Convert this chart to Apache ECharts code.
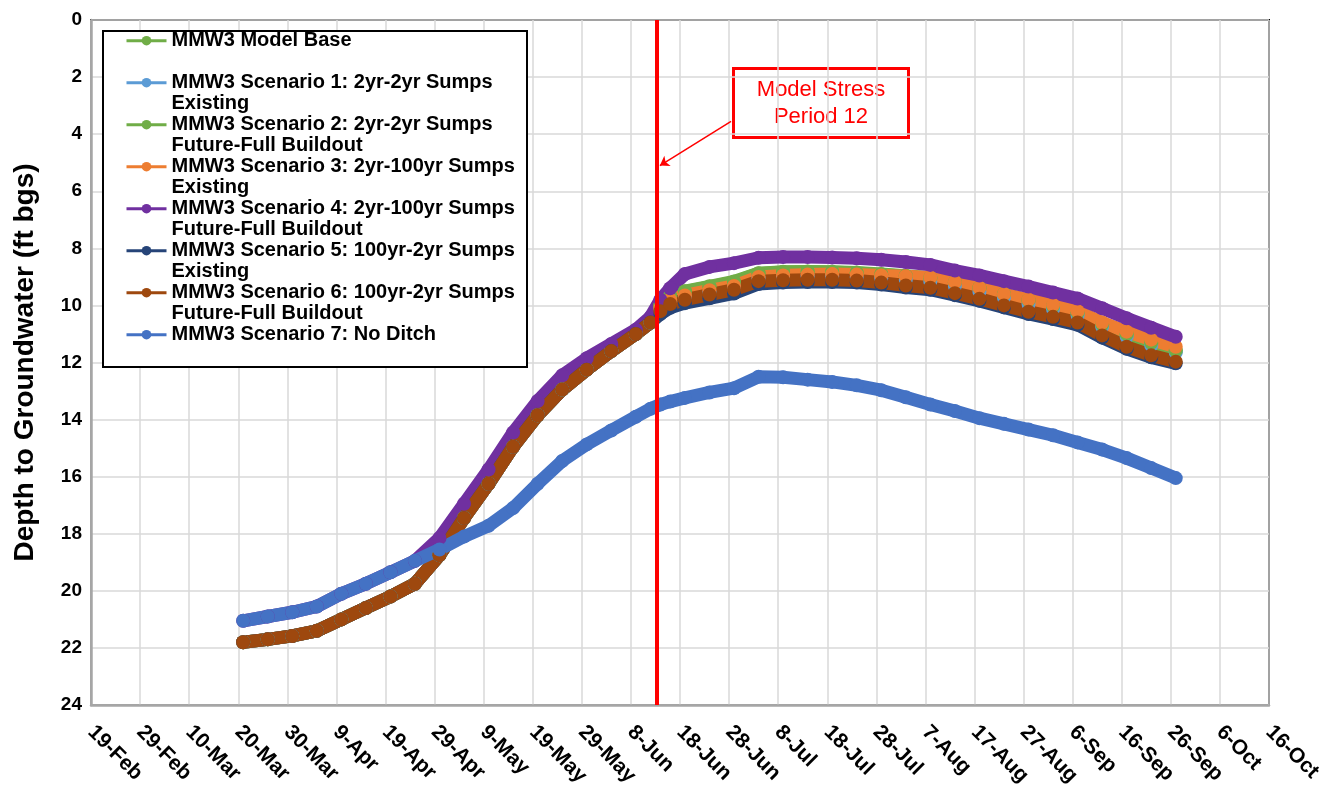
<!DOCTYPE html>
<html lang="en">
<head>
<meta charset="UTF-8">
<title>MMW3 Depth to Groundwater</title>
<script src="https://cdn.jsdelivr.net/npm/echarts@6/dist/echarts.min.js"></script>
<style>
  html, body { margin: 0; padding: 0; background: #fff; }
  #main { width: 1339px; height: 808px; }
</style>
</head>
<body>
<div id="main"></div>
<script>
// days since 19-Feb-2024 (first tick of the x axis)
var dayOffsets = [31, 36, 41, 46, 51, 56, 61, 66, 71, 76, 81, 86, 91, 96, 101, 106, 111, 114,
    116, 118, 121, 126, 131, 136, 141, 146, 151, 156, 161, 166, 171, 176, 181, 186, 191, 196, 201, 206, 211, 216, 221];

// before stress period 12 most scenarios share the same curve
var sharedRise = [21.8, 21.7, 21.58, 21.4, 21.0, 20.6, 20.2, 19.75, 18.75, 17.45, 16.25, 14.95, 13.85, 12.95, 12.25, 11.6, 11.0, 10.6];
var s4Rise = [21.05, 20.9, 20.75, 20.55, 20.1, 19.75, 19.35, 18.95, 18.15, 16.95, 15.75, 14.45, 13.35, 12.45, 11.85, 11.35, 10.85, 10.4];
var s7Rise = [21.05, 20.9, 20.75, 20.55, 20.1, 19.75, 19.35, 18.95, 18.55, 18.1, 17.72, 17.1, 16.25, 15.45, 14.87, 14.38, 13.9, 13.62];

// after stress period 12
var baseLate = [10.0, 9.68, 9.52, 9.35, 9.18, 8.88, 8.83, 8.82, 8.83, 8.86, 8.92, 8.98, 9.05, 9.2, 9.4, 9.62, 9.84, 10.04, 10.28, 10.68, 11.02, 11.33, 11.6];
var s1Late = [10.15, 9.85, 9.7, 9.52, 9.36, 9.05, 9.0, 8.98, 8.98, 9.0, 9.05, 9.1, 9.17, 9.32, 9.52, 9.73, 9.95, 10.13, 10.35, 10.75, 11.1, 11.4, 11.65];
var s2Late = [10.0, 9.66, 9.5, 9.33, 9.16, 8.87, 8.82, 8.81, 8.82, 8.85, 8.9, 8.96, 9.03, 9.18, 9.38, 9.6, 9.82, 10.02, 10.26, 10.66, 11.0, 11.31, 11.58];
var s3Late = [10.1, 9.8, 9.65, 9.47, 9.32, 9.0, 8.95, 8.92, 8.9, 8.92, 8.95, 8.98, 9.02, 9.18, 9.38, 9.6, 9.8, 9.98, 10.2, 10.6, 10.92, 11.2, 11.45];
var s4Late = [9.8, 9.4, 8.9, 8.65, 8.52, 8.33, 8.3, 8.3, 8.32, 8.35, 8.4, 8.48, 8.58, 8.78, 8.95, 9.15, 9.34, 9.55, 9.76, 10.1, 10.45, 10.78, 11.1];
var s5Late = [10.3, 10.08, 9.92, 9.75, 9.58, 9.25, 9.2, 9.18, 9.18, 9.2, 9.27, 9.37, 9.45, 9.64, 9.84, 10.07, 10.3, 10.48, 10.68, 11.13, 11.52, 11.82, 12.03];
var s6Late = [10.2, 9.95, 9.8, 9.62, 9.45, 9.15, 9.12, 9.1, 9.1, 9.13, 9.2, 9.3, 9.38, 9.57, 9.77, 10.0, 10.22, 10.4, 10.6, 11.05, 11.45, 11.75, 11.97];
var s7Late = [13.47, 13.37, 13.24, 13.05, 12.9, 12.5, 12.52, 12.6, 12.68, 12.8, 12.97, 13.22, 13.47, 13.7, 13.95, 14.15, 14.35, 14.55, 14.8, 15.05, 15.35, 15.7, 16.05];

var seriesNames = [
    'MMW3 Model Base',
    'MMW3 Scenario 1: 2yr-2yr Sumps\nExisting',
    'MMW3 Scenario 2: 2yr-2yr Sumps\nFuture-Full Buildout',
    'MMW3 Scenario 3: 2yr-100yr Sumps\nExisting',
    'MMW3 Scenario 4: 2yr-100yr Sumps\nFuture-Full Buildout',
    'MMW3 Scenario 5: 100yr-2yr Sumps\nExisting',
    'MMW3 Scenario 6: 100yr-2yr Sumps\nFuture-Full Buildout',
    'MMW3 Scenario 7: No Ditch'
];
var seriesColors = ['#70AD47', '#5B9BD5', '#70AD47', '#ED7D31', '#7030A0', '#264478', '#9E480E', '#4472C4'];
var seriesValues = [
    sharedRise.concat(baseLate),
    sharedRise.concat(s1Late),
    sharedRise.concat(s2Late),
    sharedRise.concat(s3Late),
    s4Rise.concat(s4Late),
    sharedRise.concat(s5Late),
    sharedRise.concat(s6Late),
    s7Rise.concat(s7Late)
];

var stressDay = 115.3;           // Model Stress Period 12
var calloutFrom = [130.4, 3.55];
var calloutTo = [115.9, 5.1];

var MONTHS = ['Jan', 'Feb', 'Mar', 'Apr', 'May', 'Jun', 'Jul', 'Aug', 'Sep', 'Oct', 'Nov', 'Dec'];
function dayLabel(v) {
    var d = new Date(Date.UTC(2024, 1, 19 + v));
    return d.getUTCDate() + '-' + MONTHS[d.getUTCMonth()];
}

var font = '"Liberation Sans", Arial, sans-serif';
var myChart = echarts.init(document.getElementById('main'));

var series = seriesNames.map(function (name, i) {
    return {
        name: name,
        type: 'line',
        data: dayOffsets.map(function (d, j) { return [d, seriesValues[i][j]]; }),
        symbol: 'circle',
        symbolSize: 14,
        showSymbol: true,
        lineStyle: { color: seriesColors[i], width: 13 },
        itemStyle: { color: seriesColors[i] },
        emphasis: { disabled: true },
        z: 2
    };
});

series[7].markLine = {
    silent: true,
    animation: false,
    label: { show: false },
    symbol: ['none', 'none'],
    data: [
        { xAxis: stressDay, lineStyle: { color: '#FF0000', width: 4, type: 'solid' } },
        [
            { coord: calloutFrom, symbol: 'none', lineStyle: { color: '#FF0000', width: 1.5, type: 'solid' } },
            { coord: calloutTo, symbol: 'arrow', symbolSize: 9 }
        ]
    ]
};

var option = {
    animation: false,
    backgroundColor: '#fff',
    grid: {
        left: 91, right: 70, top: 20, bottom: 103,
        show: true, borderColor: '#000', borderWidth: 2
    },
    xAxis: {
        type: 'value',
        min: 0, max: 240, interval: 10,
        axisLine: { show: true, onZero: false, lineStyle: { color: '#A6A6A6', width: 2.5 } },
        axisTick: { show: false },
        splitLine: { show: true, lineStyle: { color: '#D9D9D9', width: 1.5 } },
        axisLabel: {
            rotate: -45, margin: 24,
            fontFamily: font, fontSize: 21, fontWeight: 'bold', color: '#000',
            formatter: dayLabel
        }
    },
    yAxis: {
        type: 'value',
        inverse: true,
        min: 0, max: 24, interval: 2,
        name: 'Depth to Groundwater (ft bgs)',
        nameLocation: 'middle',
        nameGap: 52,
        nameTextStyle: { fontFamily: font, fontSize: 28, fontWeight: 'bold', color: '#000' },
        axisLine: { show: true, lineStyle: { color: '#A6A6A6', width: 2.5 } },
        axisTick: { show: false },
        splitLine: { show: true, lineStyle: { color: '#D9D9D9', width: 1.5 } },
        axisLabel: { margin: 9, fontFamily: font, fontSize: 19, fontWeight: 'bold', color: '#000' }
    },
    legend: {
        orient: 'vertical',
        left: 125, top: 9.2,
        padding: 0,
        itemGap: -21,
        itemWidth: 40, itemHeight: 12,
        selectedMode: false,
        lineStyle: { width: 3 },
        textStyle: {
            fontFamily: font, fontSize: 20, fontWeight: 'bold', color: '#000',
            lineHeight: 21
        },
        // a blank first line puts the icon level with the first text line
        formatter: function (name) {
            return ' \n' + (name.indexOf('\n') < 0 ? name + '\n ' : name);
        },
        z: 6
    },
    graphic: [
        {
            type: 'rect', z: 5,
            shape: { x: 103, y: 31, width: 424, height: 336 },
            style: { fill: '#fff', stroke: '#000', lineWidth: 2 }
        },
        {
            type: 'group', left: 732, top: 67, z: 10,
            children: [
                {
                    type: 'rect',
                    shape: { x: 0, y: 0, width: 175, height: 69 },
                    style: { fill: '#fff', stroke: '#FF0000', lineWidth: 3 }
                },
                {
                    type: 'text',
                    x: 87.5, y: 34.5,
                    style: {
                        text: 'Model Stress\nPeriod 12',
                        fill: '#FF0000', font: '22px ' + font,
                        lineHeight: 27, align: 'center', verticalAlign: 'middle'
                    }
                }
            ]
        }
    ],
    series: series
};

myChart.setOption(option);
</script>
</body>
</html>
